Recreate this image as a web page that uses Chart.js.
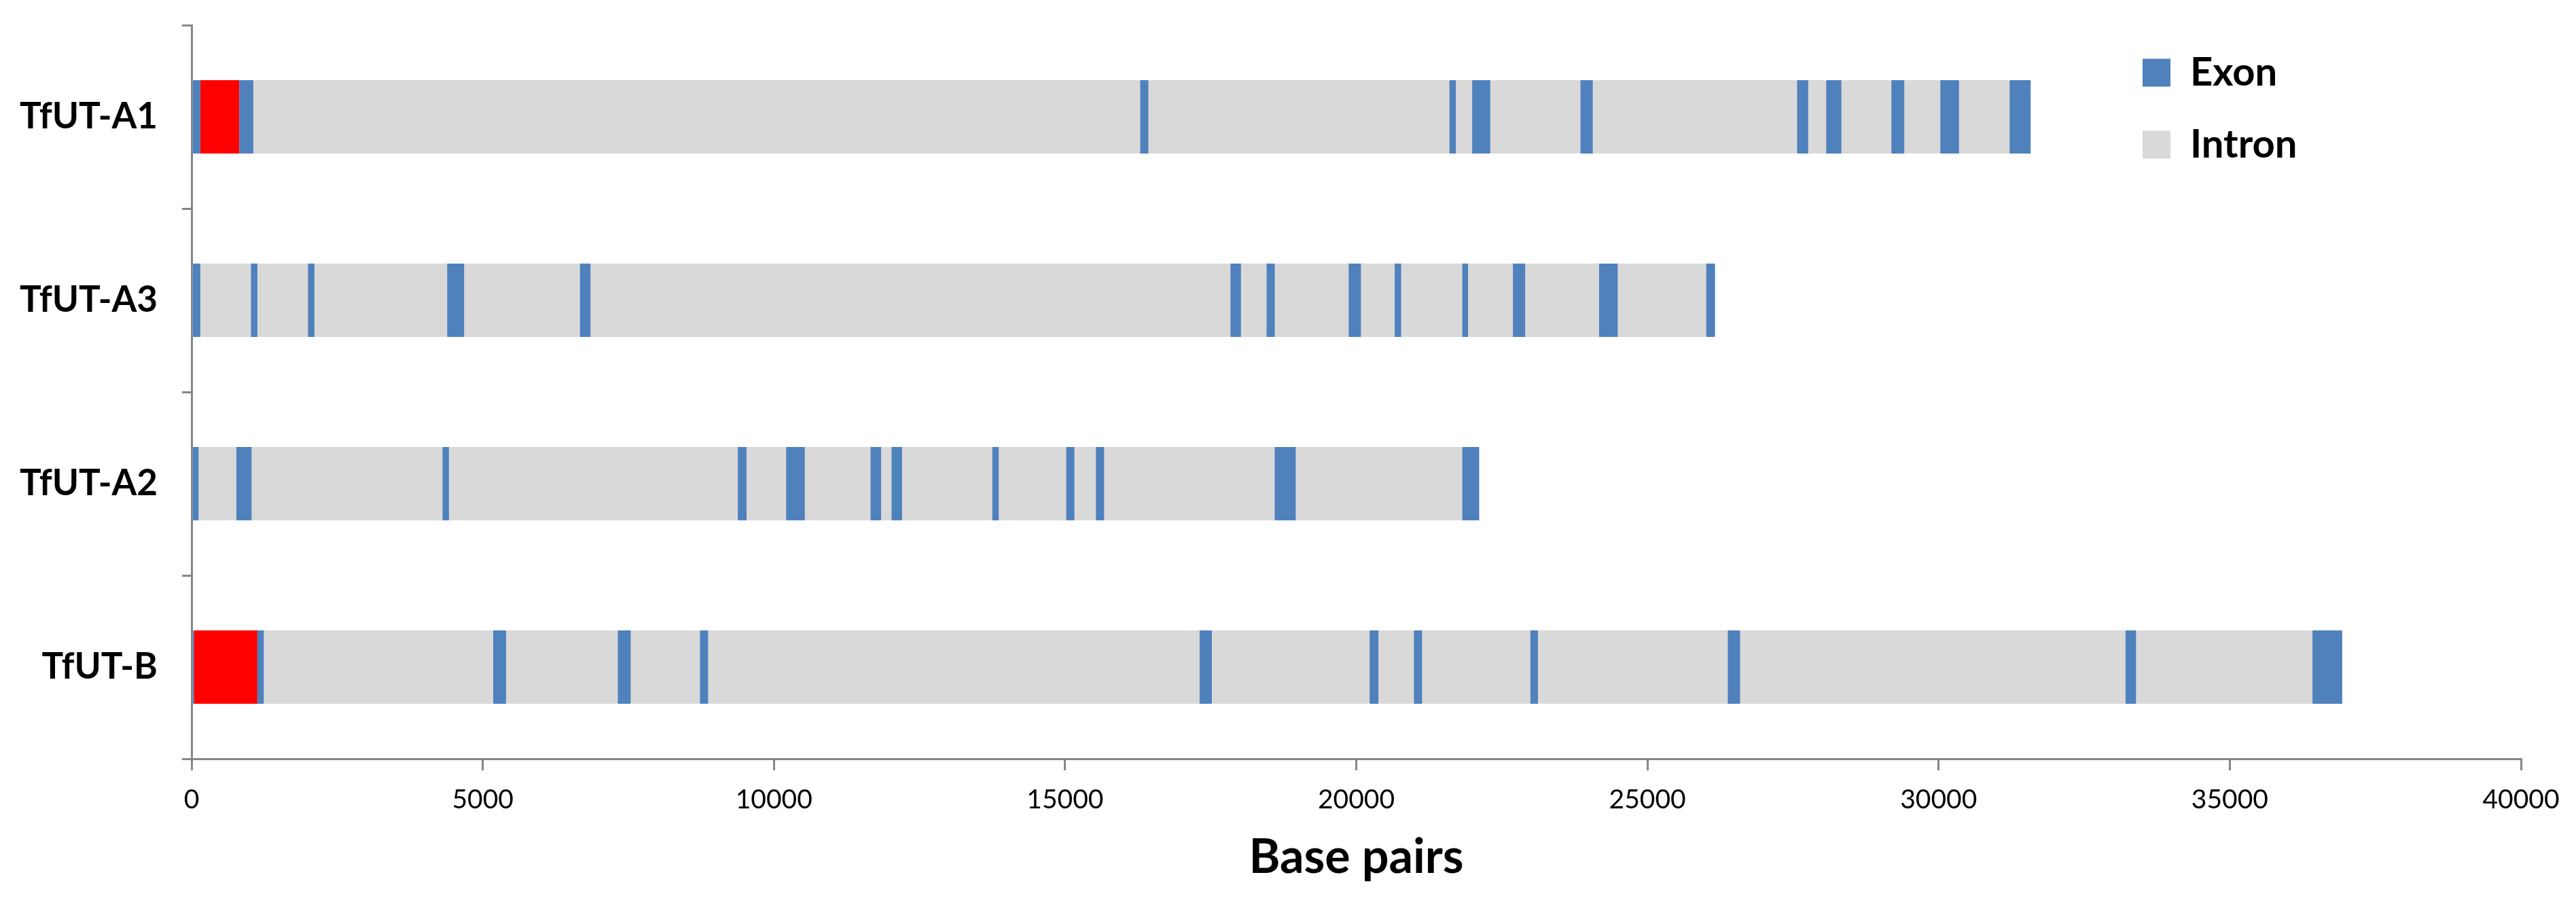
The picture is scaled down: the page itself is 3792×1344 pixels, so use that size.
<!DOCTYPE html>
<html>
<head>
<meta charset="utf-8">
<title>TfUT gene structure</title>
<script src="https://cdn.jsdelivr.net/npm/chart.js@4.4.1/dist/chart.umd.min.js"></script>
<style>
  html, body { margin: 0; padding: 0; background: #fff; }
  #wrap { width: 3792px; height: 1344px; }
</style>
</head>
<body>
<div id="wrap"><canvas id="geneChart" width="3792" height="1344"></canvas></div>
<script>
// Gene models drawn as floating bars (base pairs)
const genes = ['TfUT-A1', 'TfUT-A3', 'TfUT-A2', 'TfUT-B'];
const geneLength = [31580, 26160, 22110, 36930];
const xTicks = [0, 5000, 10000, 15000, 20000, 25000, 30000, 35000, 40000];

// exon [start, end] per gene
const exonsA1 = [[0, 150], [820, 1060], [16290, 16430], [21600, 21710], [21990, 22300],
  [23850, 24060], [27570, 27760], [28070, 28330], [29190, 29410], [30030, 30350], [31220, 31580]];
const exonsA3 = [[0, 150], [1020, 1130], [2000, 2110], [4390, 4680], [6670, 6850],
  [17840, 18020], [18460, 18600], [19870, 20080], [20660, 20770], [21820, 21920],
  [22690, 22900], [24170, 24490], [26010, 26160]];
const exonsA2 = [[0, 120], [770, 1030], [4310, 4420], [9380, 9530], [10210, 10530],
  [11660, 11840], [12020, 12200], [13750, 13860], [15020, 15160], [15530, 15670],
  [18600, 18960], [21820, 22110]];
const exonsB = [[0, 40], [1130, 1240], [5180, 5400], [7320, 7540], [8730, 8870],
  [17310, 17520], [20230, 20380], [20990, 21130], [22990, 23120], [26380, 26590],
  [33210, 33390], [36420, 36930]];

// red region at the 5' end
const redA1 = [150, 820];
const redB = [40, 1130];

const exonSets = [exonsA1, exonsA3, exonsA2, exonsB];

// bars for the library
const exonBars = [];
exonSets.forEach((list, i) => {
  list.forEach(seg => exonBars.push({ x: seg, y: genes[i] }));
});
const redBars = [{ x: redA1, y: genes[0] }, { x: redB, y: genes[3] }];
const intronBars = geneLength.map((len, i) => ({ x: [0, len], y: genes[i] }));

const axisGray = '#868686';

// put the legend inside the plot, top right
const legendPlace = {
  id: 'legendPlace',
  afterLayout(chart) {
    const lg = chart.legend;
    if (!lg) return;
    lg.left = 3106;
    lg.top = 30;
    lg.right = lg.left + lg.width;
    lg.bottom = lg.top + lg.height;
  }
};

new Chart(document.getElementById('geneChart'), {
  type: 'bar',
  data: {
    labels: genes,
    datasets: [
      { label: 'Exon', data: exonBars, backgroundColor: '#4F81BD', borderWidth: 0, grouped: false },
      { label: 'UTR', data: redBars, backgroundColor: '#FF0000', borderWidth: 0, grouped: false },
      { label: 'Intron', data: intronBars, backgroundColor: '#D9D9D9', borderWidth: 0, grouped: false }
    ]
  },
  options: {
    indexAxis: 'y',
    responsive: false,
    animation: false,
    devicePixelRatio: 1,
    layout: { autoPadding: false, padding: { left: 0, top: 37, right: 81, bottom: 0 } },
    datasets: { bar: { categoryPercentage: 1, barPercentage: 0.4 } },
    plugins: {
      tooltip: { enabled: false },
      legend: {
        position: 'chartArea',
        align: 'start',
        labels: {
          filter: item => item.text !== 'UTR',
          boxWidth: 41,
          boxHeight: 41,
          padding: 48,
          color: '#000',
          font: { family: 'Lato', size: 58, weight: 'bold' }
        }
      }
    },
    scales: {
      x: {
        type: 'linear',
        min: 0,
        max: 40000,
        afterBuildTicks: scale => { scale.ticks = xTicks.map(v => ({ value: v })); },
        afterFit: scale => {
          scale.height = 227;
          scale.paddingLeft = 0;
          scale.paddingRight = 0;
        },
        border: { color: axisGray, width: 3 },
        grid: { drawOnChartArea: false, color: axisGray, lineWidth: 3, tickLength: 17 },
        ticks: {
          color: '#000',
          padding: 20,
          font: { family: 'Lato', size: 39 },
          callback: v => String(v)
        },
        title: {
          display: true,
          text: 'Base pairs',
          color: '#000',
          padding: { top: 0, bottom: 40 },
          font: { family: 'Lato', size: 70, weight: 'bold', lineHeight: 1.2 }
        }
      },
      y: {
        afterFit: scale => {
          scale.width = 282;
          scale.paddingTop = 0;
          scale.paddingBottom = 0;
        },
        border: { color: axisGray, width: 3 },
        grid: { drawOnChartArea: false, color: axisGray, lineWidth: 3, tickLength: 14, offset: true },
        ticks: { color: '#000', padding: 36, font: { family: 'Lato', size: 53, weight: 'bold' } }
      }
    }
  },
  plugins: [legendPlace]
});
</script>
</body>
</html>
